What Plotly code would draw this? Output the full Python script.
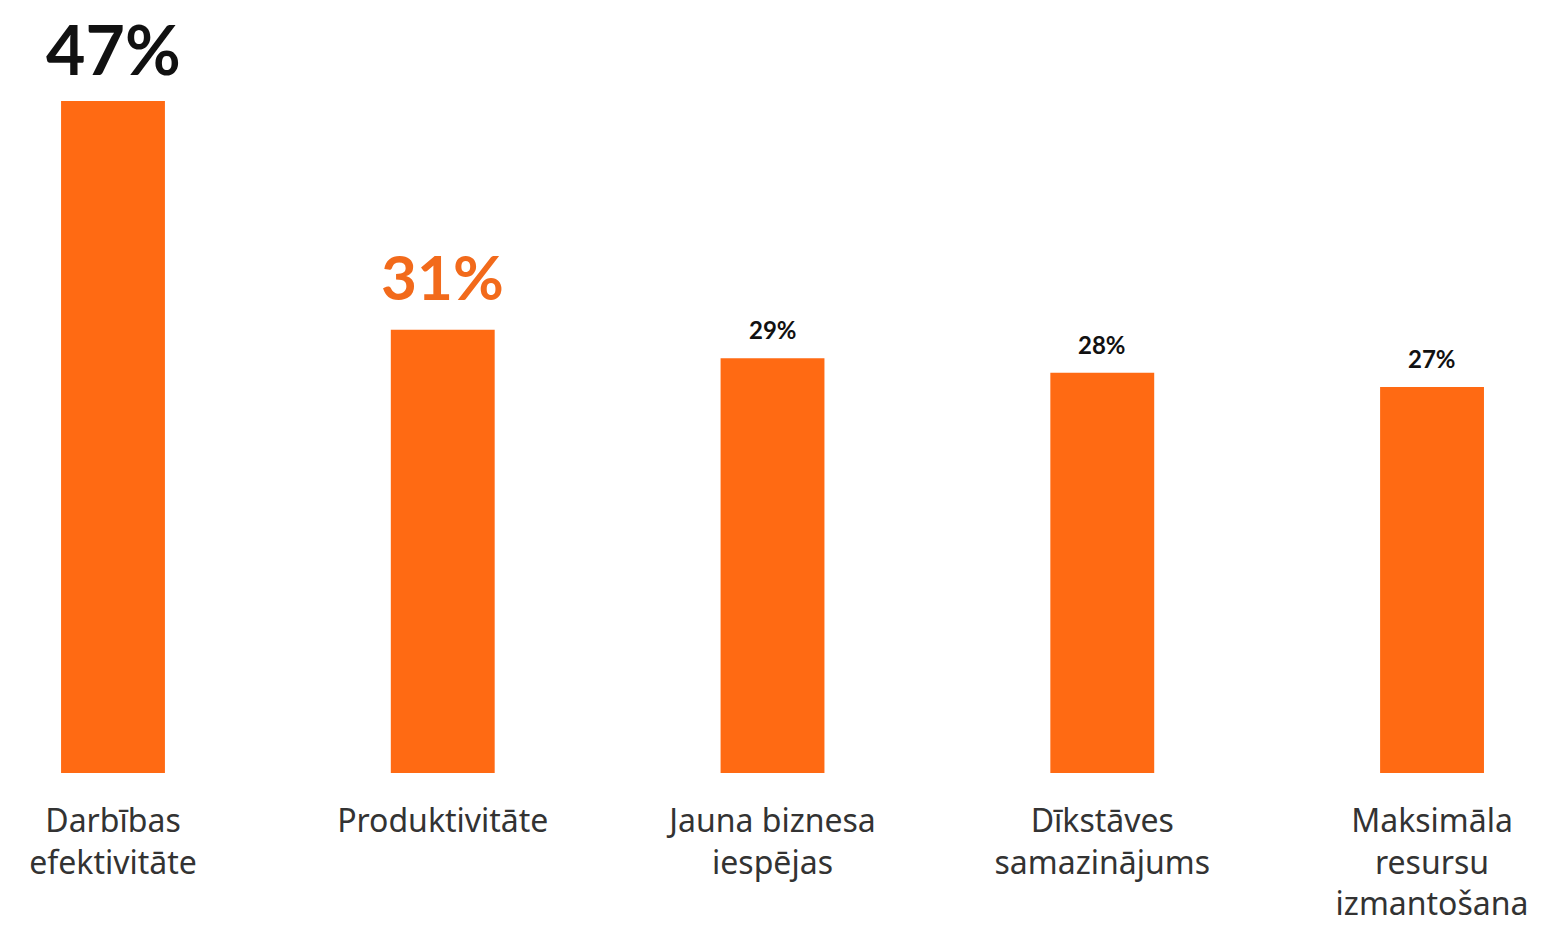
import plotly.graph_objects as go

categories = ["Darbības<br>efektivitāte", "Produktivitāte", "Jauna biznesa<br>iespējas",
              "Dīkstāves<br>samazinājums", "Maksimāla<br>resursu<br>izmantošana"]
values = [47, 31, 29, 28, 27]
value_labels = ["47%", "31%", "29%", "28%", "27%"]

label_sizes = [68, 62, 24, 24, 24]
label_colors = ["#111111", "#F26A1B", "#111111", "#111111", "#111111"]
label_shifts = [10, 15, 12, 12, 12]

bar_color = "#FF6A13"
xs = list(range(len(categories)))

fig = go.Figure()
fig.add_trace(go.Bar(x=xs, y=values, width=0.315, marker_color=bar_color,
                     marker_line_width=0, hoverinfo="skip"))

for x, v, t, s, c, sh in zip(xs, values, value_labels, label_sizes, label_colors, label_shifts):
    fig.add_annotation(x=x, y=v, text=f"<b>{t}</b>", showarrow=False, yanchor="bottom",
                       xanchor="center", yshift=sh,
                       font=dict(family="Lato", size=s, color=c))

fig.update_layout(
    width=1550, height=922,
    margin=dict(l=0, r=0, t=0, b=157, autoexpand=False),
    paper_bgcolor="white", plot_bgcolor="white",
    showlegend=False,
    xaxis=dict(range=[-0.3184, 4.382], tickvals=xs, ticktext=categories,
               showgrid=False, zeroline=False, showline=False, ticks="",
               automargin=False, ticklabelstandoff=26,
               tickfont=dict(family="Noto Sans", size=32, color="#333333")),
    yaxis=dict(range=[0, 53.5], visible=False, showgrid=False, zeroline=False,
               automargin=False),
)

fig.write_html("out.html")
